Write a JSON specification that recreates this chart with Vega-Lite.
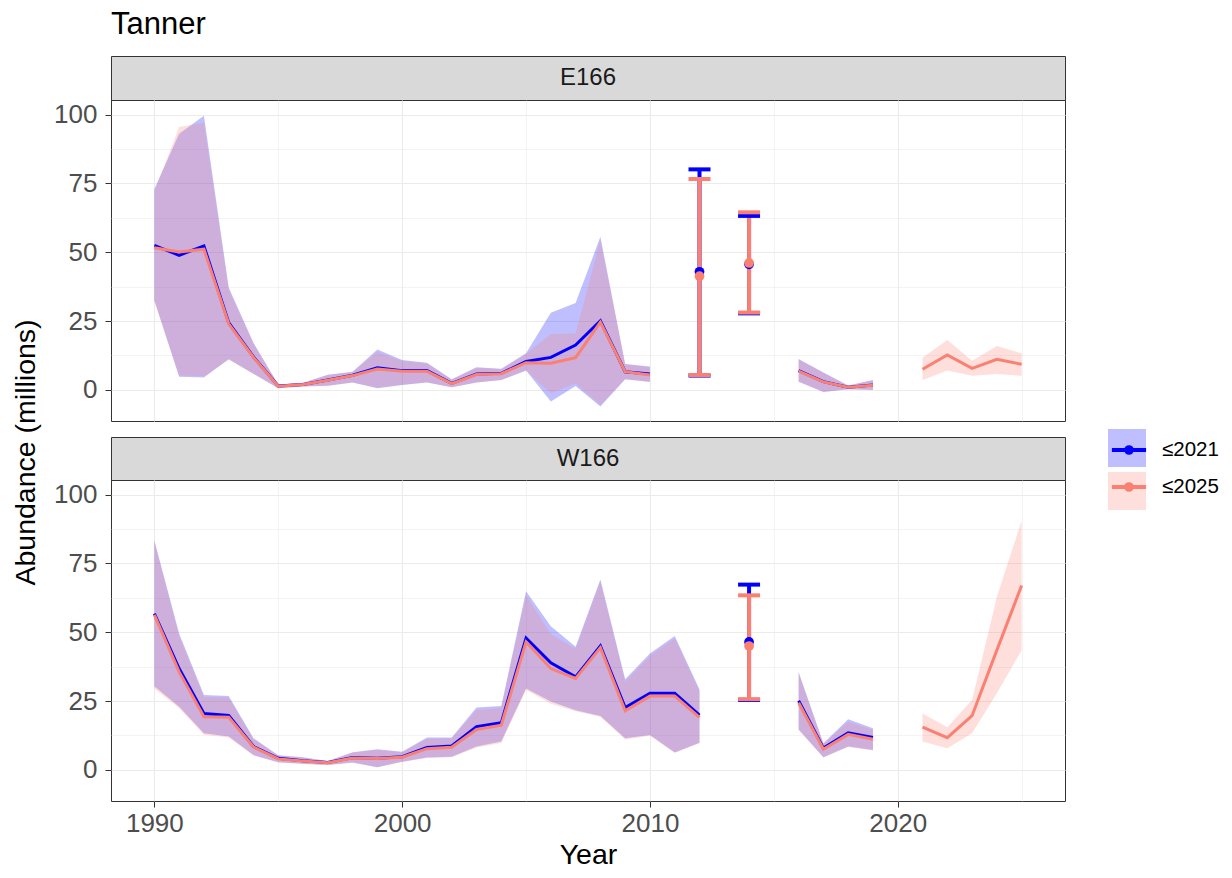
{
  "$schema": "https://vega.github.io/schema/vega-lite/v6.json",
  "padding": {"left": 10, "top": 8, "right": 5, "bottom": 5},
  "title": {"text": "Tanner", "anchor": "start", "frame": "group", "fontSize": 31, "fontWeight": "normal", "color": "#000000", "offset": 15},
  "config": {
    "font": "Liberation Sans",
    "view": {"stroke": "#333333", "strokeWidth": 1},
    "axis": {"labelFont": "Liberation Sans", "titleFont": "Liberation Sans"},
    "legend": {"labelFont": "Liberation Sans"}
  },
  "datasets": {
    "d": [
      {"region": "E166", "series": "≤2021", "seg": "a", "kind": "line", "year": 1990, "est": 52.5, "lo": 32.6, "hi": 73},
      {"region": "E166", "series": "≤2021", "seg": "a", "kind": "line", "year": 1991, "est": 48.9, "lo": 4.8, "hi": 93},
      {"region": "E166", "series": "≤2021", "seg": "a", "kind": "line", "year": 1992, "est": 52.3, "lo": 4.5, "hi": 99.6},
      {"region": "E166", "series": "≤2021", "seg": "a", "kind": "line", "year": 1993, "est": 24.4, "lo": 11.1, "hi": 37.2},
      {"region": "E166", "series": "≤2021", "seg": "a", "kind": "line", "year": 1994, "est": 12, "lo": 5.9, "hi": 17.1},
      {"region": "E166", "series": "≤2021", "seg": "a", "kind": "line", "year": 1995, "est": 1.4, "lo": 0.6, "hi": 2},
      {"region": "E166", "series": "≤2021", "seg": "a", "kind": "line", "year": 1996, "est": 2, "lo": 1.2, "hi": 2.6},
      {"region": "E166", "series": "≤2021", "seg": "a", "kind": "line", "year": 1997, "est": 3.6, "lo": 1.5, "hi": 5.5},
      {"region": "E166", "series": "≤2021", "seg": "a", "kind": "line", "year": 1998, "est": 5.3, "lo": 2.7, "hi": 6.6},
      {"region": "E166", "series": "≤2021", "seg": "a", "kind": "line", "year": 1999, "est": 8, "lo": 0.6, "hi": 14.7},
      {"region": "E166", "series": "≤2021", "seg": "a", "kind": "line", "year": 2000, "est": 7, "lo": 1.8, "hi": 10.9},
      {"region": "E166", "series": "≤2021", "seg": "a", "kind": "line", "year": 2001, "est": 7, "lo": 2.7, "hi": 9.9},
      {"region": "E166", "series": "≤2021", "seg": "a", "kind": "line", "year": 2002, "est": 2.4, "lo": 1, "hi": 3.9},
      {"region": "E166", "series": "≤2021", "seg": "a", "kind": "line", "year": 2003, "est": 5.8, "lo": 2.7, "hi": 8.2},
      {"region": "E166", "series": "≤2021", "seg": "a", "kind": "line", "year": 2004, "est": 6, "lo": 3.6, "hi": 7.7},
      {"region": "E166", "series": "≤2021", "seg": "a", "kind": "line", "year": 2005, "est": 10.3, "lo": 7, "hi": 13.3},
      {"region": "E166", "series": "≤2021", "seg": "a", "kind": "line", "year": 2006, "est": 11.8, "lo": -4.2, "hi": 28},
      {"region": "E166", "series": "≤2021", "seg": "a", "kind": "line", "year": 2007, "est": 16.3, "lo": 1.4, "hi": 31.6},
      {"region": "E166", "series": "≤2021", "seg": "a", "kind": "line", "year": 2008, "est": 25.1, "lo": -6, "hi": 55.6},
      {"region": "E166", "series": "≤2021", "seg": "a", "kind": "line", "year": 2009, "est": 6.6, "lo": 3.9, "hi": 9.4},
      {"region": "E166", "series": "≤2021", "seg": "a", "kind": "line", "year": 2010, "est": 5.8, "lo": 3, "hi": 8.5},
      {"region": "E166", "series": "≤2021", "seg": "b", "kind": "line", "year": 2016, "est": 7, "lo": 3, "hi": 11.2},
      {"region": "E166", "series": "≤2021", "seg": "b", "kind": "line", "year": 2017, "est": 3, "lo": -0.8, "hi": 6.3},
      {"region": "E166", "series": "≤2021", "seg": "b", "kind": "line", "year": 2018, "est": 1, "lo": 0.2, "hi": 1.6},
      {"region": "E166", "series": "≤2021", "seg": "b", "kind": "line", "year": 2019, "est": 1.8, "lo": 0, "hi": 3.6},
      {"region": "E166", "series": "≤2025", "seg": "a", "kind": "line", "year": 1990, "est": 51.6, "lo": 32, "hi": 72},
      {"region": "E166", "series": "≤2025", "seg": "a", "kind": "line", "year": 1991, "est": 50.1, "lo": 5.2, "hi": 95.5},
      {"region": "E166", "series": "≤2025", "seg": "a", "kind": "line", "year": 1992, "est": 51.1, "lo": 5, "hi": 97},
      {"region": "E166", "series": "≤2025", "seg": "a", "kind": "line", "year": 1993, "est": 24, "lo": 11, "hi": 36.5},
      {"region": "E166", "series": "≤2025", "seg": "a", "kind": "line", "year": 1994, "est": 11.8, "lo": 5.8, "hi": 16.8},
      {"region": "E166", "series": "≤2025", "seg": "a", "kind": "line", "year": 1995, "est": 1.3, "lo": 0.6, "hi": 2},
      {"region": "E166", "series": "≤2025", "seg": "a", "kind": "line", "year": 1996, "est": 2, "lo": 1.2, "hi": 2.5},
      {"region": "E166", "series": "≤2025", "seg": "a", "kind": "line", "year": 1997, "est": 3.5, "lo": 1.5, "hi": 5.4},
      {"region": "E166", "series": "≤2025", "seg": "a", "kind": "line", "year": 1998, "est": 5.2, "lo": 2.7, "hi": 6.5},
      {"region": "E166", "series": "≤2025", "seg": "a", "kind": "line", "year": 1999, "est": 7.6, "lo": 0.8, "hi": 13.8},
      {"region": "E166", "series": "≤2025", "seg": "a", "kind": "line", "year": 2000, "est": 6.8, "lo": 1.9, "hi": 10.5},
      {"region": "E166", "series": "≤2025", "seg": "a", "kind": "line", "year": 2001, "est": 6.8, "lo": 2.8, "hi": 9.6},
      {"region": "E166", "series": "≤2025", "seg": "a", "kind": "line", "year": 2002, "est": 2.3, "lo": 1, "hi": 3.8},
      {"region": "E166", "series": "≤2025", "seg": "a", "kind": "line", "year": 2003, "est": 5.6, "lo": 2.7, "hi": 8},
      {"region": "E166", "series": "≤2025", "seg": "a", "kind": "line", "year": 2004, "est": 5.9, "lo": 3.6, "hi": 7.5},
      {"region": "E166", "series": "≤2025", "seg": "a", "kind": "line", "year": 2005, "est": 9.9, "lo": 7, "hi": 13},
      {"region": "E166", "series": "≤2025", "seg": "a", "kind": "line", "year": 2006, "est": 9.7, "lo": -1.2, "hi": 20.3},
      {"region": "E166", "series": "≤2025", "seg": "a", "kind": "line", "year": 2007, "est": 11.7, "lo": 2.4, "hi": 20.5},
      {"region": "E166", "series": "≤2025", "seg": "a", "kind": "line", "year": 2008, "est": 24.6, "lo": -5.5, "hi": 54.5},
      {"region": "E166", "series": "≤2025", "seg": "a", "kind": "line", "year": 2009, "est": 6.6, "lo": 3.9, "hi": 9.3},
      {"region": "E166", "series": "≤2025", "seg": "a", "kind": "line", "year": 2010, "est": 5.4, "lo": 2.8, "hi": 8.2},
      {"region": "E166", "series": "≤2025", "seg": "b", "kind": "line", "year": 2016, "est": 6.8, "lo": 3, "hi": 11},
      {"region": "E166", "series": "≤2025", "seg": "b", "kind": "line", "year": 2017, "est": 2.9, "lo": -0.7, "hi": 6.2},
      {"region": "E166", "series": "≤2025", "seg": "b", "kind": "line", "year": 2018, "est": 1, "lo": 0.2, "hi": 1.6},
      {"region": "E166", "series": "≤2025", "seg": "b", "kind": "line", "year": 2019, "est": 1.7, "lo": 0, "hi": 3.5},
      {"region": "E166", "series": "≤2025", "seg": "c", "kind": "line", "year": 2021, "est": 7.5, "lo": 3.6, "hi": 11.7},
      {"region": "E166", "series": "≤2025", "seg": "c", "kind": "line", "year": 2022, "est": 12.7, "lo": 7, "hi": 18.1},
      {"region": "E166", "series": "≤2025", "seg": "c", "kind": "line", "year": 2023, "est": 7.8, "lo": 5.1, "hi": 10.6},
      {"region": "E166", "series": "≤2025", "seg": "c", "kind": "line", "year": 2024, "est": 11.1, "lo": 5.8, "hi": 15.9},
      {"region": "E166", "series": "≤2025", "seg": "c", "kind": "line", "year": 2025, "est": 9.3, "lo": 5.1, "hi": 13.3},
      {"region": "E166", "series": "≤2021", "seg": "p", "kind": "bar", "year": 2012, "est": 42.9, "lo": 5.2, "hi": 80.1},
      {"region": "E166", "series": "≤2021", "seg": "p", "kind": "bar", "year": 2014, "est": 45.6, "lo": 27.8, "hi": 63.2},
      {"region": "E166", "series": "≤2025", "seg": "p", "kind": "bar", "year": 2012, "est": 41.3, "lo": 5.4, "hi": 76.6},
      {"region": "E166", "series": "≤2025", "seg": "p", "kind": "bar", "year": 2014, "est": 46.1, "lo": 28.1, "hi": 64.5},
      {"region": "W166", "series": "≤2021", "seg": "a", "kind": "line", "year": 1990, "est": 56.8, "lo": 30.4, "hi": 83.3},
      {"region": "W166", "series": "≤2021", "seg": "a", "kind": "line", "year": 1991, "est": 36.8, "lo": 22.9, "hi": 49.5},
      {"region": "W166", "series": "≤2021", "seg": "a", "kind": "line", "year": 1992, "est": 20.5, "lo": 13.3, "hi": 27.2},
      {"region": "W166", "series": "≤2021", "seg": "a", "kind": "line", "year": 1993, "est": 19.8, "lo": 12.1, "hi": 26.8},
      {"region": "W166", "series": "≤2021", "seg": "a", "kind": "line", "year": 1994, "est": 8.5, "lo": 5.4, "hi": 11.5},
      {"region": "W166", "series": "≤2021", "seg": "a", "kind": "line", "year": 1995, "est": 4.2, "lo": 2.8, "hi": 5.3},
      {"region": "W166", "series": "≤2021", "seg": "a", "kind": "line", "year": 1996, "est": 3.3, "lo": 2.2, "hi": 4.6},
      {"region": "W166", "series": "≤2021", "seg": "a", "kind": "line", "year": 1997, "est": 2.7, "lo": 1.8, "hi": 3.2},
      {"region": "W166", "series": "≤2021", "seg": "a", "kind": "line", "year": 1998, "est": 4.5, "lo": 2.7, "hi": 6.4},
      {"region": "W166", "series": "≤2021", "seg": "a", "kind": "line", "year": 1999, "est": 4.2, "lo": 1, "hi": 7.5},
      {"region": "W166", "series": "≤2021", "seg": "a", "kind": "line", "year": 2000, "est": 4.8, "lo": 3, "hi": 6.6},
      {"region": "W166", "series": "≤2021", "seg": "a", "kind": "line", "year": 2001, "est": 8.1, "lo": 4.5, "hi": 11.8},
      {"region": "W166", "series": "≤2021", "seg": "a", "kind": "line", "year": 2002, "est": 8.7, "lo": 4.8, "hi": 11.8},
      {"region": "W166", "series": "≤2021", "seg": "a", "kind": "line", "year": 2003, "est": 15.7, "lo": 8.5, "hi": 22.7},
      {"region": "W166", "series": "≤2021", "seg": "a", "kind": "line", "year": 2004, "est": 17.1, "lo": 10.3, "hi": 23.2},
      {"region": "W166", "series": "≤2021", "seg": "a", "kind": "line", "year": 2005, "est": 47.9, "lo": 29.6, "hi": 64.9},
      {"region": "W166", "series": "≤2021", "seg": "a", "kind": "line", "year": 2006, "est": 38.9, "lo": 24.8, "hi": 52.2},
      {"region": "W166", "series": "≤2021", "seg": "a", "kind": "line", "year": 2007, "est": 33.8, "lo": 21.7, "hi": 44.7},
      {"region": "W166", "series": "≤2021", "seg": "a", "kind": "line", "year": 2008, "est": 45, "lo": 19.6, "hi": 69.2},
      {"region": "W166", "series": "≤2021", "seg": "a", "kind": "line", "year": 2009, "est": 22.6, "lo": 11.5, "hi": 32.9},
      {"region": "W166", "series": "≤2021", "seg": "a", "kind": "line", "year": 2010, "est": 27.8, "lo": 12.7, "hi": 42.3},
      {"region": "W166", "series": "≤2021", "seg": "a", "kind": "line", "year": 2011, "est": 27.8, "lo": 6.3, "hi": 48.6},
      {"region": "W166", "series": "≤2021", "seg": "a", "kind": "line", "year": 2012, "est": 19.9, "lo": 9.9, "hi": 29.2},
      {"region": "W166", "series": "≤2021", "seg": "b", "kind": "line", "year": 2016, "est": 25.1, "lo": 14.7, "hi": 35.6},
      {"region": "W166", "series": "≤2021", "seg": "b", "kind": "line", "year": 2017, "est": 7.9, "lo": 4.6, "hi": 9.7},
      {"region": "W166", "series": "≤2021", "seg": "b", "kind": "line", "year": 2018, "est": 13.5, "lo": 8.5, "hi": 18.4},
      {"region": "W166", "series": "≤2021", "seg": "b", "kind": "line", "year": 2019, "est": 11.8, "lo": 7.2, "hi": 15.1},
      {"region": "W166", "series": "≤2025", "seg": "a", "kind": "line", "year": 1990, "est": 56.3, "lo": 29.5, "hi": 83},
      {"region": "W166", "series": "≤2025", "seg": "a", "kind": "line", "year": 1991, "est": 35.6, "lo": 22.5, "hi": 48.5},
      {"region": "W166", "series": "≤2025", "seg": "a", "kind": "line", "year": 1992, "est": 19.3, "lo": 12.8, "hi": 26.5},
      {"region": "W166", "series": "≤2025", "seg": "a", "kind": "line", "year": 1993, "est": 19.1, "lo": 11.8, "hi": 26.3},
      {"region": "W166", "series": "≤2025", "seg": "a", "kind": "line", "year": 1994, "est": 8.3, "lo": 5.2, "hi": 11.3},
      {"region": "W166", "series": "≤2025", "seg": "a", "kind": "line", "year": 1995, "est": 4, "lo": 2.7, "hi": 5.2},
      {"region": "W166", "series": "≤2025", "seg": "a", "kind": "line", "year": 1996, "est": 3.2, "lo": 2.1, "hi": 4.5},
      {"region": "W166", "series": "≤2025", "seg": "a", "kind": "line", "year": 1997, "est": 2.6, "lo": 1.8, "hi": 3.1},
      {"region": "W166", "series": "≤2025", "seg": "a", "kind": "line", "year": 1998, "est": 4.3, "lo": 2.6, "hi": 6.2},
      {"region": "W166", "series": "≤2025", "seg": "a", "kind": "line", "year": 1999, "est": 4.1, "lo": 1, "hi": 7.3},
      {"region": "W166", "series": "≤2025", "seg": "a", "kind": "line", "year": 2000, "est": 4.6, "lo": 2.9, "hi": 6.4},
      {"region": "W166", "series": "≤2025", "seg": "a", "kind": "line", "year": 2001, "est": 7.7, "lo": 4.3, "hi": 11.3},
      {"region": "W166", "series": "≤2025", "seg": "a", "kind": "line", "year": 2002, "est": 8.2, "lo": 4.6, "hi": 11.4},
      {"region": "W166", "series": "≤2025", "seg": "a", "kind": "line", "year": 2003, "est": 14.7, "lo": 8.1, "hi": 21.8},
      {"region": "W166", "series": "≤2025", "seg": "a", "kind": "line", "year": 2004, "est": 16.2, "lo": 9.8, "hi": 22.5},
      {"region": "W166", "series": "≤2025", "seg": "a", "kind": "line", "year": 2005, "est": 46.5, "lo": 29, "hi": 63.5},
      {"region": "W166", "series": "≤2025", "seg": "a", "kind": "line", "year": 2006, "est": 36.8, "lo": 24, "hi": 49.3},
      {"region": "W166", "series": "≤2025", "seg": "a", "kind": "line", "year": 2007, "est": 33.2, "lo": 21.3, "hi": 44},
      {"region": "W166", "series": "≤2025", "seg": "a", "kind": "line", "year": 2008, "est": 44.4, "lo": 19.3, "hi": 68.5},
      {"region": "W166", "series": "≤2025", "seg": "a", "kind": "line", "year": 2009, "est": 21.5, "lo": 11, "hi": 32},
      {"region": "W166", "series": "≤2025", "seg": "a", "kind": "line", "year": 2010, "est": 26.8, "lo": 12.4, "hi": 41.5},
      {"region": "W166", "series": "≤2025", "seg": "a", "kind": "line", "year": 2011, "est": 26.8, "lo": 6.2, "hi": 47.8},
      {"region": "W166", "series": "≤2025", "seg": "a", "kind": "line", "year": 2012, "est": 19.1, "lo": 9.7, "hi": 28.6},
      {"region": "W166", "series": "≤2025", "seg": "b", "kind": "line", "year": 2016, "est": 24.4, "lo": 14.5, "hi": 35},
      {"region": "W166", "series": "≤2025", "seg": "b", "kind": "line", "year": 2017, "est": 7.5, "lo": 4.5, "hi": 9.5},
      {"region": "W166", "series": "≤2025", "seg": "b", "kind": "line", "year": 2018, "est": 12.9, "lo": 8.3, "hi": 17.5},
      {"region": "W166", "series": "≤2025", "seg": "b", "kind": "line", "year": 2019, "est": 11.1, "lo": 7, "hi": 14.5},
      {"region": "W166", "series": "≤2025", "seg": "c", "kind": "line", "year": 2021, "est": 15.5, "lo": 10.3, "hi": 20.5},
      {"region": "W166", "series": "≤2025", "seg": "c", "kind": "line", "year": 2022, "est": 11.7, "lo": 7.9, "hi": 15.5},
      {"region": "W166", "series": "≤2025", "seg": "c", "kind": "line", "year": 2023, "est": 19.7, "lo": 13.3, "hi": 25.4},
      {"region": "W166", "series": "≤2025", "seg": "c", "kind": "line", "year": 2024, "est": 43.5, "lo": 27.8, "hi": 62.8},
      {"region": "W166", "series": "≤2025", "seg": "c", "kind": "line", "year": 2025, "est": 67, "lo": 43.5, "hi": 90.6},
      {"region": "W166", "series": "≤2021", "seg": "p", "kind": "bar", "year": 2014, "est": 46.5, "lo": 25.4, "hi": 67.3},
      {"region": "W166", "series": "≤2025", "seg": "p", "kind": "bar", "year": 2014, "est": 45, "lo": 25.7, "hi": 63.4}
    ],
    "stripE": [{"label": "E166"}],
    "stripW": [{"label": "W166"}],
    "gap": [{"label": ""}]
  },
  "bounds": "flush",
  "spacing": 0,
  "vconcat": [
    {
      "data": {"name": "stripE"},
      "width": 954, "height": 44,
      "view": {"fill": "#D9D9D9", "stroke": "#333333", "strokeWidth": 1},
      "mark": {"type": "text", "fontSize": 24, "color": "#1A1A1A"},
      "encoding": {"text": {"field": "label", "type": "nominal"}}
    },
    {
      "data": {"name": "d"},
      "transform": [{"filter": "datum.region === 'E166'"}],
      "width": 954, "height": 321,
      "resolve": {"axis": {"x": "independent", "y": "independent"}},
      "layer": [
        {
          "transform": [{"filter": "datum.kind === 'line'"}],
          "mark": {"type": "area", "fillOpacity": 0.25, "strokeWidth": 0},
          "encoding": {
            "x": {"field": "year", "type": "quantitative", "scale": {"domain": [1988.25, 2026.75], "nice": false, "zero": false},
                  "axis": {"orient": "bottom", "values": [1995, 2005, 2015, 2025], "grid": true, "gridColor": "#EBEBEB", "gridWidth": 0.6, "labels": false, "ticks": false, "domain": false, "title": null}},
            "y": {"field": "lo", "type": "quantitative", "scale": {"domain": [-11.3, 105.3], "nice": false, "zero": false},
                  "axis": {"orient": "left", "values": [12.5, 37.5, 62.5, 87.5], "grid": true, "gridColor": "#EBEBEB", "gridWidth": 0.6, "labels": false, "ticks": false, "domain": false, "title": null}},
            "y2": {"field": "hi"},
            "fill": {"field": "series", "type": "nominal", "scale": {"domain": ["≤2021", "≤2025"], "range": ["#0000FF", "#FA8072"]},
                     "legend": {"orient": "none", "legendX": 997, "legendY": 373, "title": null, "padding": 0, "symbolType": "square", "symbolSize": 1444, "symbolOpacity": 0.25, "symbolStrokeWidth": 0, "labelFontSize": 20.5, "labelColor": "#000000", "labelExpr": "''", "rowPadding": 5, "labelOffset": 12}},
            "detail": {"field": "seg"}
          }
        },
        {
          "transform": [{"filter": "datum.kind === 'line'"}],
          "mark": {"type": "line", "strokeWidth": 3},
          "encoding": {
            "x": {"field": "year", "type": "quantitative",
                  "axis": {"orient": "bottom", "values": [1990, 2000, 2010, 2020], "grid": true, "gridColor": "#EBEBEB", "gridWidth": 1.1, "labels": false, "ticks": false, "domain": false, "title": null}},
            "y": {"field": "est", "type": "quantitative",
                  "axis": {"orient": "left", "values": [0, 25, 50, 75, 100], "grid": true, "gridColor": "#EBEBEB", "gridWidth": 1.1, "domain": false, "ticks": true, "tickColor": "#333333", "tickSize": 6, "labelFontSize": 26, "labelColor": "#4D4D4D", "labelPadding": 8,
                           "title": "Abundance (millions)", "titleFontSize": 28.5, "titleFontWeight": "normal", "titleColor": "#000000", "titleY": 352, "titleX": -86, "titleAngle": 270, "titleAlign": "center", "titleBaseline": "middle"}},
            "stroke": {"field": "series", "type": "nominal", "scale": {"range": ["#0000FF", "#FA8072"]},
                       "legend": {"orient": "none", "legendX": 997, "legendY": 373, "title": null, "padding": 0, "symbolType": "M-0.9,0L0.9,0M0.15,0A0.15,0.15,0,1,1,-0.15,0A0.15,0.15,0,1,1,0.15,0Z", "symbolSize": 1444, "symbolStrokeWidth": 4, "labelFontSize": 20.5, "labelColor": "#000000", "rowPadding": 5, "labelOffset": 12,
                                  "encode": {"symbols": {"update": {"fill": {"signal": "datum.value === '≤2021' ? '#0000FF' : '#FA8072'"}, "fillOpacity": {"value": 1}, "opacity": {"value": 1}}}}}},
            "detail": {"field": "seg"}
          }
        },
        {
          "transform": [{"filter": "datum.kind === 'bar'"}],
          "mark": {"type": "rule", "strokeWidth": 4},
          "encoding": {
            "x": {"field": "year", "type": "quantitative", "axis": null},
            "y": {"field": "lo", "type": "quantitative", "axis": null},
            "y2": {"field": "hi"},
            "color": {"field": "series", "type": "nominal", "scale": {"domain": ["≤2021", "≤2025"], "range": ["#0000FF", "#FA8072"]}, "legend": null}
          }
        },
        {
          "transform": [{"filter": "datum.kind === 'bar'"}],
          "mark": {"type": "tick", "orient": "horizontal", "size": 22, "thickness": 4, "opacity": 1},
          "encoding": {
            "x": {"field": "year", "type": "quantitative", "axis": null},
            "y": {"field": "hi", "type": "quantitative", "axis": null},
            "color": {"field": "series", "type": "nominal", "legend": null}
          }
        },
        {
          "transform": [{"filter": "datum.kind === 'bar'"}],
          "mark": {"type": "tick", "orient": "horizontal", "size": 22, "thickness": 4, "opacity": 1},
          "encoding": {
            "x": {"field": "year", "type": "quantitative", "axis": null},
            "y": {"field": "lo", "type": "quantitative", "axis": null},
            "color": {"field": "series", "type": "nominal", "legend": null}
          }
        },
        {
          "transform": [{"filter": "datum.kind === 'bar'"}],
          "mark": {"type": "point", "filled": true, "size": 95, "opacity": 1},
          "encoding": {
            "x": {"field": "year", "type": "quantitative", "axis": null},
            "y": {"field": "est", "type": "quantitative", "axis": null},
            "color": {"field": "series", "type": "nominal", "legend": null}
          }
        }
      ]
    },
    {
      "data": {"name": "gap"},
      "width": 954, "height": 16,
      "view": {"stroke": null},
      "mark": {"type": "text", "fontSize": 1},
      "encoding": {"text": {"field": "label", "type": "nominal"}}
    },
    {
      "data": {"name": "stripW"},
      "width": 954, "height": 43,
      "view": {"fill": "#D9D9D9", "stroke": "#333333", "strokeWidth": 1},
      "mark": {"type": "text", "fontSize": 24, "color": "#1A1A1A"},
      "encoding": {"text": {"field": "label", "type": "nominal"}}
    },
    {
      "data": {"name": "d"},
      "transform": [{"filter": "datum.region === 'W166'"}],
      "width": 954, "height": 321,
      "resolve": {"axis": {"x": "independent", "y": "independent"}},
      "layer": [
        {
          "transform": [{"filter": "datum.kind === 'line'"}],
          "mark": {"type": "area", "fillOpacity": 0.25, "strokeWidth": 0},
          "encoding": {
            "x": {"field": "year", "type": "quantitative", "scale": {"domain": [1988.25, 2026.75], "nice": false, "zero": false},
                  "axis": {"orient": "bottom", "values": [1995, 2005, 2015, 2025], "grid": true, "gridColor": "#EBEBEB", "gridWidth": 0.6, "labels": false, "ticks": false, "domain": false, "title": null}},
            "y": {"field": "lo", "type": "quantitative", "scale": {"domain": [-11.3, 105.3], "nice": false, "zero": false},
                  "axis": {"orient": "left", "values": [12.5, 37.5, 62.5, 87.5], "grid": true, "gridColor": "#EBEBEB", "gridWidth": 0.6, "labels": false, "ticks": false, "domain": false, "title": null}},
            "y2": {"field": "hi"},
            "fill": {"field": "series", "type": "nominal", "scale": {"domain": ["≤2021", "≤2025"], "range": ["#0000FF", "#FA8072"]},
                     "legend": {"orient": "none", "legendX": 997, "legendY": 373, "title": null, "padding": 0, "symbolType": "square", "symbolSize": 1444, "symbolOpacity": 0.25, "symbolStrokeWidth": 0, "labelFontSize": 20.5, "labelColor": "#000000", "labelExpr": "''", "rowPadding": 5, "labelOffset": 12}},
            "detail": {"field": "seg"}
          }
        },
        {
          "transform": [{"filter": "datum.kind === 'line'"}],
          "mark": {"type": "line", "strokeWidth": 3},
          "encoding": {
            "x": {"field": "year", "type": "quantitative",
                  "axis": {"orient": "bottom", "values": [1990, 2000, 2010, 2020], "format": "d", "grid": true, "gridColor": "#EBEBEB", "gridWidth": 1.1, "domain": false, "ticks": true, "tickColor": "#333333", "tickSize": 6, "labelFontSize": 26, "labelColor": "#4D4D4D", "labelPadding": 3,
                           "title": "Year", "titleFontSize": 28.5, "titleFontWeight": "normal", "titleColor": "#000000", "titlePadding": 4}},
            "y": {"field": "est", "type": "quantitative",
                  "axis": {"orient": "left", "values": [0, 25, 50, 75, 100], "grid": true, "gridColor": "#EBEBEB", "gridWidth": 1.1, "domain": false, "ticks": true, "tickColor": "#333333", "tickSize": 6, "labelFontSize": 26, "labelColor": "#4D4D4D", "labelPadding": 8, "title": null}},
            "stroke": {"field": "series", "type": "nominal", "scale": {"range": ["#0000FF", "#FA8072"]},
                       "legend": {"orient": "none", "legendX": 997, "legendY": 373, "title": null, "padding": 0, "symbolType": "M-0.9,0L0.9,0M0.15,0A0.15,0.15,0,1,1,-0.15,0A0.15,0.15,0,1,1,0.15,0Z", "symbolSize": 1444, "symbolStrokeWidth": 4, "labelFontSize": 20.5, "labelColor": "#000000", "rowPadding": 5, "labelOffset": 12,
                                  "encode": {"symbols": {"update": {"fill": {"signal": "datum.value === '≤2021' ? '#0000FF' : '#FA8072'"}, "fillOpacity": {"value": 1}, "opacity": {"value": 1}}}}}},
            "detail": {"field": "seg"}
          }
        },
        {
          "transform": [{"filter": "datum.kind === 'bar'"}],
          "mark": {"type": "rule", "strokeWidth": 4},
          "encoding": {
            "x": {"field": "year", "type": "quantitative", "axis": null},
            "y": {"field": "lo", "type": "quantitative", "axis": null},
            "y2": {"field": "hi"},
            "color": {"field": "series", "type": "nominal", "scale": {"domain": ["≤2021", "≤2025"], "range": ["#0000FF", "#FA8072"]}, "legend": null}
          }
        },
        {
          "transform": [{"filter": "datum.kind === 'bar'"}],
          "mark": {"type": "tick", "orient": "horizontal", "size": 22, "thickness": 4, "opacity": 1},
          "encoding": {
            "x": {"field": "year", "type": "quantitative", "axis": null},
            "y": {"field": "hi", "type": "quantitative", "axis": null},
            "color": {"field": "series", "type": "nominal", "legend": null}
          }
        },
        {
          "transform": [{"filter": "datum.kind === 'bar'"}],
          "mark": {"type": "tick", "orient": "horizontal", "size": 22, "thickness": 4, "opacity": 1},
          "encoding": {
            "x": {"field": "year", "type": "quantitative", "axis": null},
            "y": {"field": "lo", "type": "quantitative", "axis": null},
            "color": {"field": "series", "type": "nominal", "legend": null}
          }
        },
        {
          "transform": [{"filter": "datum.kind === 'bar'"}],
          "mark": {"type": "point", "filled": true, "size": 95, "opacity": 1},
          "encoding": {
            "x": {"field": "year", "type": "quantitative", "axis": null},
            "y": {"field": "est", "type": "quantitative", "axis": null},
            "color": {"field": "series", "type": "nominal", "legend": null}
          }
        }
      ]
    }
  ]
}
